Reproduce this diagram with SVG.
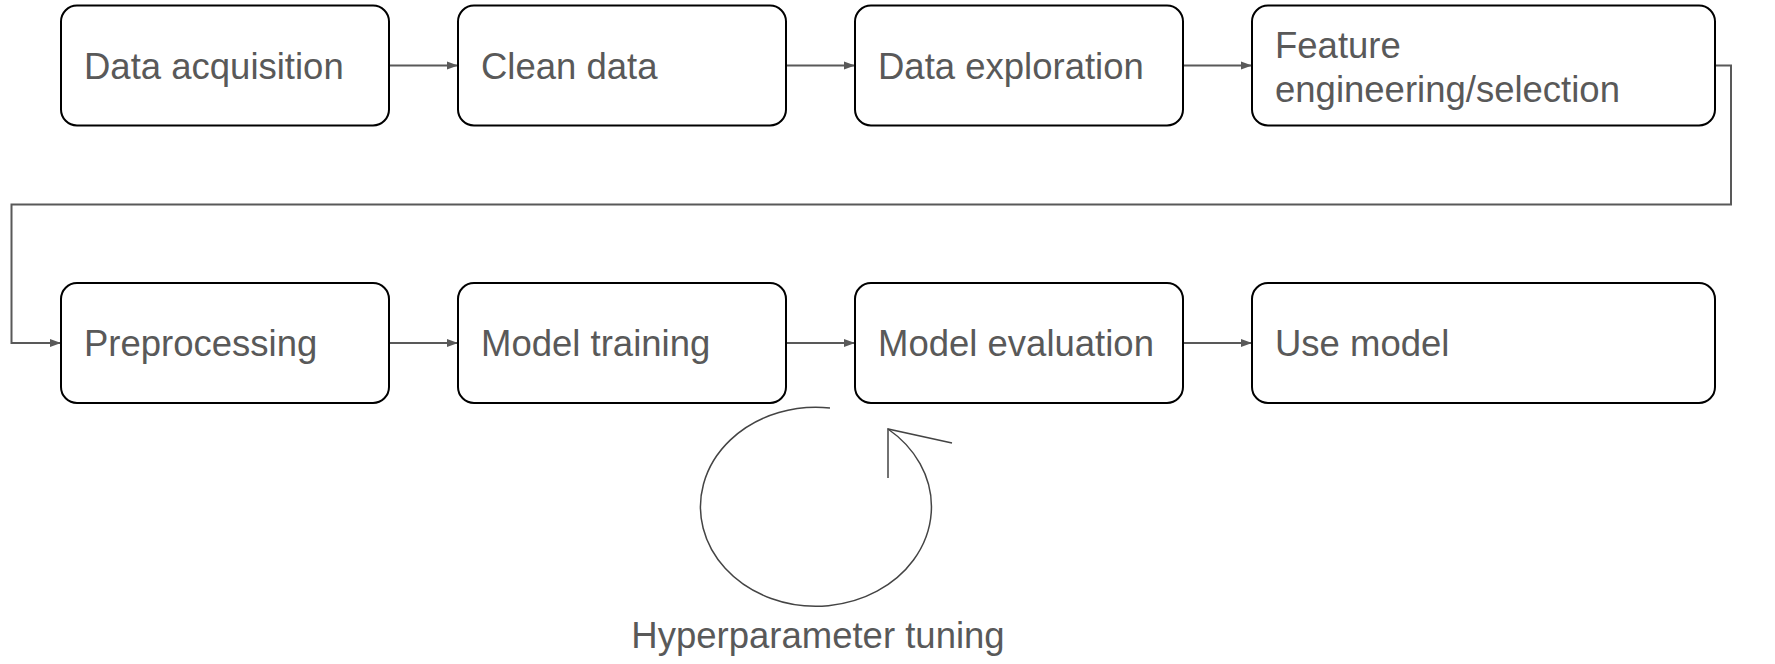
<svg xmlns="http://www.w3.org/2000/svg" width="1775" height="664" viewBox="0 0 1775 664">
<style>
.box{fill:#ffffff;stroke:#000000;stroke-width:2}
.lbl{font-family:"Liberation Sans",Arial,sans-serif;font-size:36.5px;fill:#595959}
.conn{fill:none;stroke:#595959;stroke-width:2}
.loop{fill:none;stroke:#444444;stroke-width:1.5}
</style>
<defs>
<marker id="arr" markerUnits="userSpaceOnUse" markerWidth="12" markerHeight="10" refX="11" refY="5" orient="auto">
<path d="M0,1 L11,5 L0,9 Z" fill="#595959"/>
</marker>
</defs>
<rect width="1775" height="664" fill="#ffffff"/>
<g id="connectors">
<path class="conn" d="M389,65.5 H458" marker-end="url(#arr)"/>
<path class="conn" d="M786,65.5 H855" marker-end="url(#arr)"/>
<path class="conn" d="M1183,65.5 H1252" marker-end="url(#arr)"/>
<path class="conn" d="M1715,65.5 H1731 V204.5 H11.5 V343 H61" marker-end="url(#arr)"/>
<path class="conn" d="M389,343 H458" marker-end="url(#arr)"/>
<path class="conn" d="M786,343 H855" marker-end="url(#arr)"/>
<path class="conn" d="M1183,343 H1252" marker-end="url(#arr)"/>
</g>
<g id="n1"><rect class="box" x="61" y="5.5" width="328" height="120" rx="16"/><text class="lbl" x="84" y="79">Data acquisition</text></g>
<g id="n2"><rect class="box" x="458" y="5.5" width="328" height="120" rx="16"/><text class="lbl" x="481" y="79">Clean data</text></g>
<g id="n3"><rect class="box" x="855" y="5.5" width="328" height="120" rx="16"/><text class="lbl" x="878" y="79">Data exploration</text></g>
<g id="n4"><rect class="box" x="1252" y="5.5" width="463" height="120" rx="16"/><text class="lbl" x="1275" y="58">Feature</text><text class="lbl" x="1275" y="102">engineering/selection</text></g>
<g id="n5"><rect class="box" x="61" y="283" width="328" height="120" rx="16"/><text class="lbl" x="84" y="356">Preprocessing</text></g>
<g id="n6"><rect class="box" x="458" y="283" width="328" height="120" rx="16"/><text class="lbl" x="481" y="356">Model training</text></g>
<g id="n7"><rect class="box" x="855" y="283" width="328" height="120" rx="16"/><text class="lbl" x="878" y="356">Model evaluation</text></g>
<g id="n8"><rect class="box" x="1252" y="283" width="463" height="120" rx="16"/><text class="lbl" x="1275" y="356">Use model</text></g>
<g id="loop">
<path class="loop" d="M830,408 A115.5,99.5 0 1 0 888,429"/>
<path class="loop" d="M888,478 V429 L952,443"/>
<text class="lbl" x="818" y="648" text-anchor="middle">Hyperparameter tuning</text>
</g>
</svg>
